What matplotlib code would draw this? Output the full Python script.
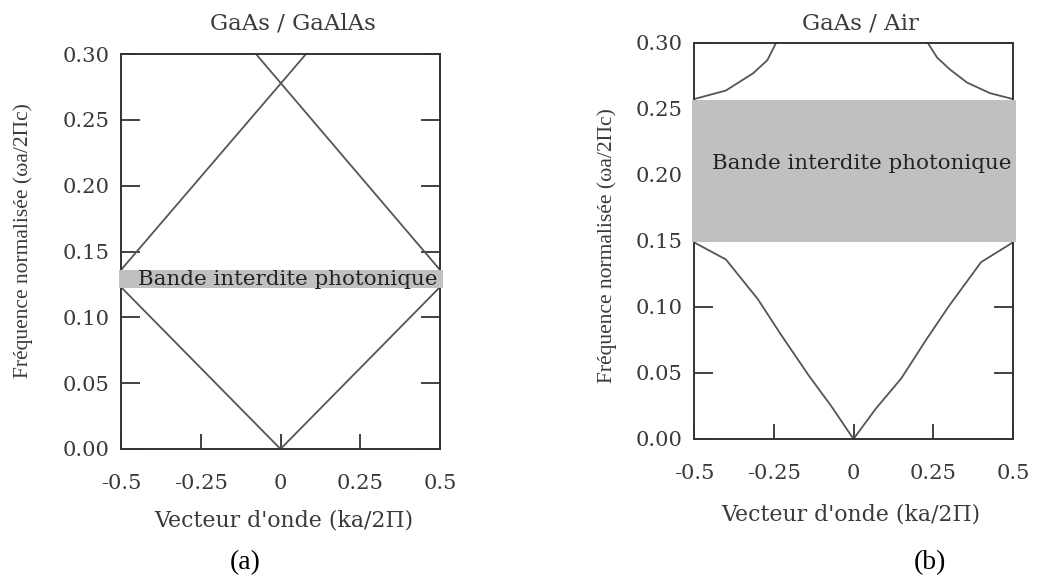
import matplotlib
matplotlib.use("Agg")
import matplotlib.pyplot as plt

W, H = 1058, 578

# panel (a) GaAs / GaAlAs : folded straight bands
ka_a_low = [-0.5, 0.0, 0.5]
w_a_low = [0.123, 0.0, 0.123]
ka_a_up1 = [-0.5, 0.08]
w_a_up1 = [0.136, 0.30]
ka_a_up2 = [-0.077, 0.5]
w_a_up2 = [0.30, 0.136]
gap_a = (0.122, 0.136)

# panel (b) GaAs / Air
ka_b_low = [-0.5, -0.4, -0.3, -0.23, -0.14, -0.07, 0.0, 0.07, 0.15, 0.23, 0.3, 0.4, 0.5]
w_b_low = [0.149, 0.136, 0.106, 0.080, 0.048, 0.025, 0.0, 0.023, 0.046, 0.076, 0.101, 0.134, 0.149]
ka_b_up1 = [-0.5, -0.4, -0.315, -0.27, -0.243]
w_b_up1 = [0.2575, 0.264, 0.277, 0.287, 0.30]
ka_b_up2 = [0.233, 0.262, 0.302, 0.356, 0.428, 0.5]
w_b_up2 = [0.30, 0.289, 0.280, 0.270, 0.262, 0.2575]
gap_b = (0.149, 0.257)

yticks = [0.0, 0.05, 0.10, 0.15, 0.20, 0.25, 0.30]
ytick_labels = ["0.00", "0.05", "0.10", "0.15", "0.20", "0.25", "0.30"]
xticks = [-0.5, -0.25, 0.0, 0.25, 0.5]
xtick_labels = ["-0.5", "-0.25", "0", "0.25", "0.5"]

TXT = "#3a3a3a"
LINE = "#555555"
SERIF = "DejaVu Serif"


def px(x, y):
    return x / W, 1 - y / H


def style_axes(ax):
    ax.set_xlim(-0.5, 0.5)
    ax.set_ylim(0, 0.3)
    for s in ax.spines.values():
        s.set_linewidth(1.4)
        s.set_color("#333333")
    ax.set_yticks(yticks)
    ax.set_yticklabels(ytick_labels, family=SERIF, fontsize=15.2, color=TXT)
    ax.set_xticks(xticks)
    ax.set_xticklabels(xtick_labels, family=SERIF, fontsize=15.2, color=TXT)
    ax.tick_params(axis="y", direction="in", left=True, right=True,
                   length=14, width=1.3, color="#333333", pad=8)
    ax.tick_params(axis="x", direction="in", bottom=True, top=False,
                   length=11, width=1.3, color="#333333", pad=18)


fig = plt.figure(figsize=(W / 100, H / 100), dpi=100)

# left panel
ax1 = fig.add_axes([121 / W, 1 - 449 / H, 319 / W, 395 / H])
style_axes(ax1)
ax1.axhspan(gap_a[0], gap_a[1], xmin=-0.005, xmax=1.01, color="#c0c0c0",
            lw=0, zorder=3, clip_on=False)
ax1.plot(ka_a_low, w_a_low, color=LINE, lw=1.3)
ax1.plot(ka_a_up1, w_a_up1, color=LINE, lw=1.3)
ax1.plot(ka_a_up2, w_a_up2, color=LINE, lw=1.3)
ax1.text(-0.447, 0.129, "Bande interdite photonique", family=SERIF,
         fontsize=15.4, color="#222222", va="center", ha="left", zorder=4)

# right panel
ax2 = fig.add_axes([694 / W, 1 - 439 / H, 319 / W, 396 / H])
style_axes(ax2)
ax2.axhspan(gap_b[0], gap_b[1], xmin=-0.005, xmax=1.01, color="#c0c0c0",
            lw=0, zorder=3, clip_on=False)
ax2.plot(ka_b_low, w_b_low, color=LINE, lw=1.3)
ax2.plot(ka_b_up1, w_b_up1, color=LINE, lw=1.3)
ax2.plot(ka_b_up2, w_b_up2, color=LINE, lw=1.3)
ax2.text(-0.444, 0.209, "Bande interdite photonique", family=SERIF,
         fontsize=15.4, color="#222222", va="center", ha="left", zorder=4)

# titles, axis labels, captions
fig.text(*px(293, 23), "GaAs / GaAlAs", family=SERIF, fontsize=16.5,
         color=TXT, ha="center", va="center")
fig.text(*px(860, 23), "GaAs / Air", family=SERIF, fontsize=16.5,
         color=TXT, ha="center", va="center")

fig.text(*px(284, 520), "Vecteur d'onde (ka/2Π)", family=SERIF, fontsize=15.8,
         color=TXT, ha="center", va="center")
fig.text(*px(851, 514), "Vecteur d'onde (ka/2Π)", family=SERIF, fontsize=15.8,
         color=TXT, ha="center", va="center")

fig.text(*px(23, 241), "Fréquence normalisée (ωa/2Πc)", family="Liberation Serif",
         fontsize=15.5, color=TXT, ha="center", va="center", rotation=90)
fig.text(*px(607, 246), "Fréquence normalisée (ωa/2Πc)", family="Liberation Serif",
         fontsize=15.5, color=TXT, ha="center", va="center", rotation=90)

fig.text(*px(245, 563), "(a)", family="Liberation Serif", fontsize=20,
         color="black", ha="center", va="center")
fig.text(*px(930, 563), "(b)", family="Liberation Serif", fontsize=20,
         color="black", ha="center", va="center")

fig.savefig("out.png", dpi=100)
